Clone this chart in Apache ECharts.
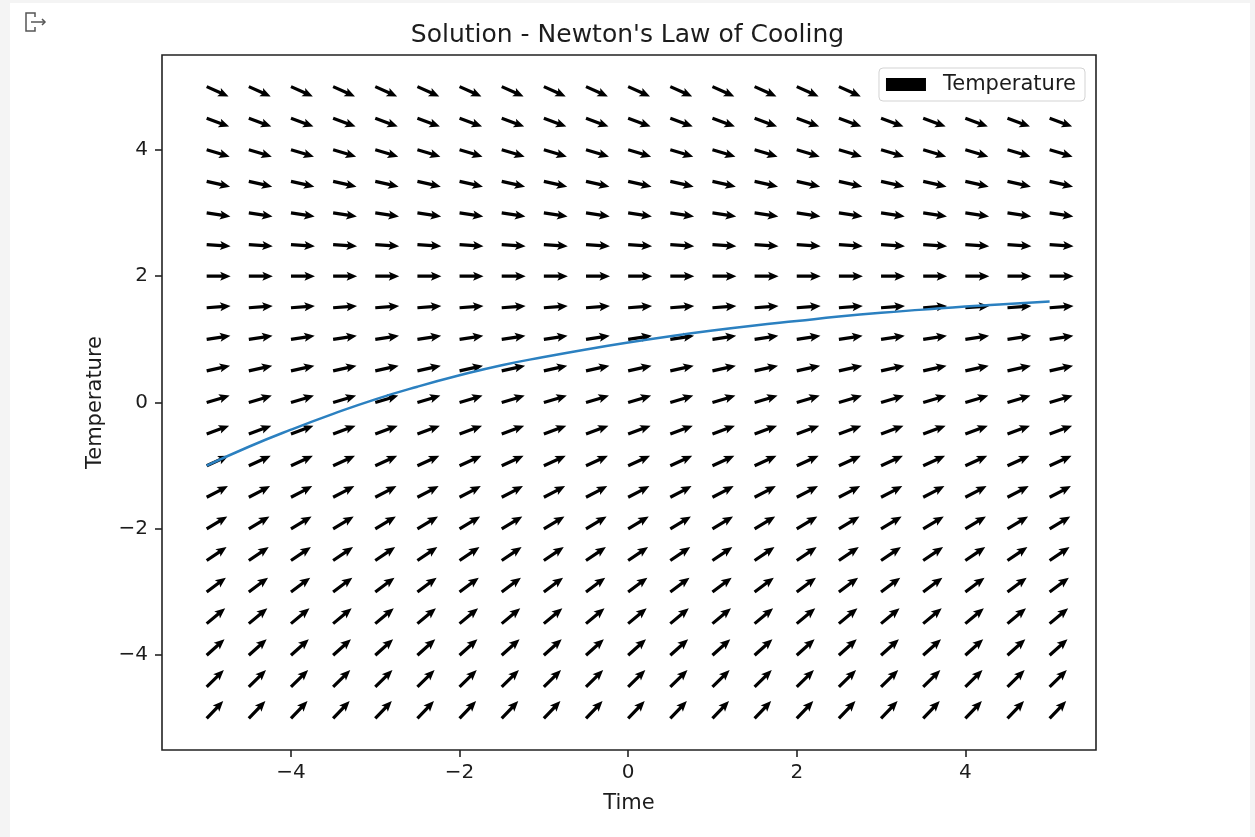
<!DOCTYPE html>
<html>
<head>
<meta charset="utf-8">
<script src="https://cdn.jsdelivr.net/npm/echarts@6/dist/echarts.min.js"></script>
<style>
  html, body { margin: 0; padding: 0; background: #f4f4f4; }
  #chart { width: 1255px; height: 837px; }
</style>
</head>
<body>
<div id="chart"></div>
<script>
// grid of the direction field (time / temperature)
var timeGrid = [-5, -4.5, -4, -3.5, -3, -2.5, -2, -1.5, -1, -0.5, 0, 0.5, 1, 1.5, 2, 2.5, 3, 3.5, 4, 4.5, 5];
var tempGrid = [-5, -4.5, -4, -3.5, -3, -2.5, -2, -1.5, -1, -0.5, 0, 0.5, 1, 1.5, 2, 2.5, 3, 3.5, 4, 4.5, 5];
// slope dT/dt read per row, bottom (T=-5) to top (T=5)
var rowSlopes = [1.4, 1.3, 1.2, 1.1, 1.0, 0.9, 0.8, 0.7, 0.6, 0.5, 0.4, 0.3, 0.2, 0.1, 0.0, -0.1, -0.2, -0.3, -0.4, -0.5, -0.6];

// solution curve
var curveTime = [-5, -4.5, -4, -3.5, -3, -2.5, -2, -1.5, -1, -0.5, 0, 0.5, 1, 1.5, 2, 2.5, 3, 3.5, 4, 4.5, 5];
var curveTemp = [-1.0, -0.70, -0.43, -0.18, 0.05, 0.25, 0.43, 0.59, 0.72, 0.84, 0.95, 1.05, 1.14, 1.22, 1.29, 1.36, 1.42, 1.47, 1.52, 1.56, 1.60];

var xTicks = [-4, -2, 0, 2, 4];
var yTicks = [-4, -2, 0, 2, 4];

var quiverData = [];
timeGrid.forEach(function (t) {
    tempGrid.forEach(function (T, j) {
        quiverData.push([t, T, rowSlopes[j]]);
    });
});
var curveData = curveTime.map(function (t, i) { return [t, curveTemp[i]]; });

var font = 'DejaVu Sans';
var ink = '#1c1c1c';
function minus(v) { return String(v).replace('-', '\u2212'); }

// arrow drawn from its tail, fixed pixel length
function renderArrow(params, api) {
    var x = api.value(0), y = api.value(1), s = api.value(2);
    var p0 = api.coord([x, y]);
    var p1 = api.coord([x + 1, y + s]);
    var dx = p1[0] - p0[0], dy = p1[1] - p0[1];
    var d = Math.sqrt(dx * dx + dy * dy);
    var ux = dx / d, uy = dy / d, vx = -uy, vy = ux;
    var L = 24, w = 3.2, hw = 9, hl = 10.5, hal = 9;
    var pts = [[0, -w / 2], [L - hal, -w / 2], [L - hl, -hw / 2], [L, 0], [L - hl, hw / 2], [L - hal, w / 2], [0, w / 2]]
        .map(function (q) {
            return [p0[0] + q[0] * ux + q[1] * vx, p0[1] + q[0] * uy + q[1] * vy];
        });
    return { type: 'polygon', shape: { points: pts }, style: { fill: '#000' } };
}

var myChart = echarts.init(document.getElementById('chart'));
var option = {
    backgroundColor: '#f4f4f4',
    animation: false,
    graphic: [
        { type: 'rect', z: -10, shape: { x: 10, y: 3, width: 1240, height: 834 }, style: { fill: '#fff' } },
        { type: 'polyline', shape: { points: [[35, 17], [35, 13], [26, 13], [26, 31], [35, 31], [35, 27]] }, style: { stroke: '#555', lineWidth: 1.5, fill: null } },
        { type: 'line', shape: { x1: 31, y1: 22, x2: 45, y2: 22 }, style: { stroke: '#555', lineWidth: 1.5 } },
        { type: 'polyline', shape: { points: [[42, 19], [45, 22], [42, 25]] }, style: { stroke: '#555', lineWidth: 1.5, fill: null } }
    ],
    title: {
        text: "Solution - Newton's Law of Cooling",
        left: 'center',
        top: 18,
        textStyle: { fontFamily: font, fontSize: 25, fontWeight: 'normal', color: ink }
    },
    legend: {
        data: [{ name: 'Temperature', icon: 'rect' }],
        right: 170,
        top: 68,
        padding: [6, 9, 6, 7],
        borderColor: '#d3d3d3',
        borderWidth: 1,
        borderRadius: 4,
        backgroundColor: '#fff',
        itemWidth: 40,
        itemHeight: 13,
        selectedMode: false,
        textStyle: { fontFamily: font, fontSize: 21, color: ink, padding: [0, 0, 0, 12] }
    },
    grid: {
        left: 162, right: 159, top: 55, bottom: 87,
        show: true, borderColor: '#222', borderWidth: 1.6, backgroundColor: '#fff'
    },
    xAxis: {
        type: 'value',
        min: -5.53,
        max: 5.55,
        name: 'Time',
        nameLocation: 'middle',
        nameGap: 43,
        nameTextStyle: { fontFamily: font, fontSize: 21, color: ink },
        axisLine: { show: false, onZero: false },
        axisTick: { show: true, length: 7, customValues: xTicks, lineStyle: { color: '#222', width: 1.6 } },
        axisLabel: { customValues: xTicks, margin: 13, fontFamily: font, fontSize: 20, color: ink, formatter: minus },
        splitLine: { show: false }
    },
    yAxis: {
        type: 'value',
        min: -5.5,
        max: 5.5,
        name: 'Temperature',
        nameLocation: 'middle',
        nameGap: 56,
        nameTextStyle: { fontFamily: font, fontSize: 21, color: ink },
        axisLine: { show: false, onZero: false },
        axisTick: { show: true, length: 7, customValues: yTicks, lineStyle: { color: '#222', width: 1.6 } },
        axisLabel: { customValues: yTicks, margin: 14, fontFamily: font, fontSize: 20, color: ink, formatter: minus },
        splitLine: { show: false }
    },
    series: [{
        name: 'Temperature',
        type: 'custom',
        renderItem: renderArrow,
        itemStyle: { color: '#000' },
        encode: { x: 0, y: 1 },
        data: quiverData,
        silent: true
    }, {
        name: 'solution',
        type: 'line',
        data: curveData,
        smooth: true,
        symbol: 'none',
        z: 5,
        lineStyle: { color: '#2b80c0', width: 2.5 },
        silent: true
    }]
};
myChart.setOption(option);
window.addEventListener('resize', function () {
    myChart.resize();
});
</script>
</body>
</html>
